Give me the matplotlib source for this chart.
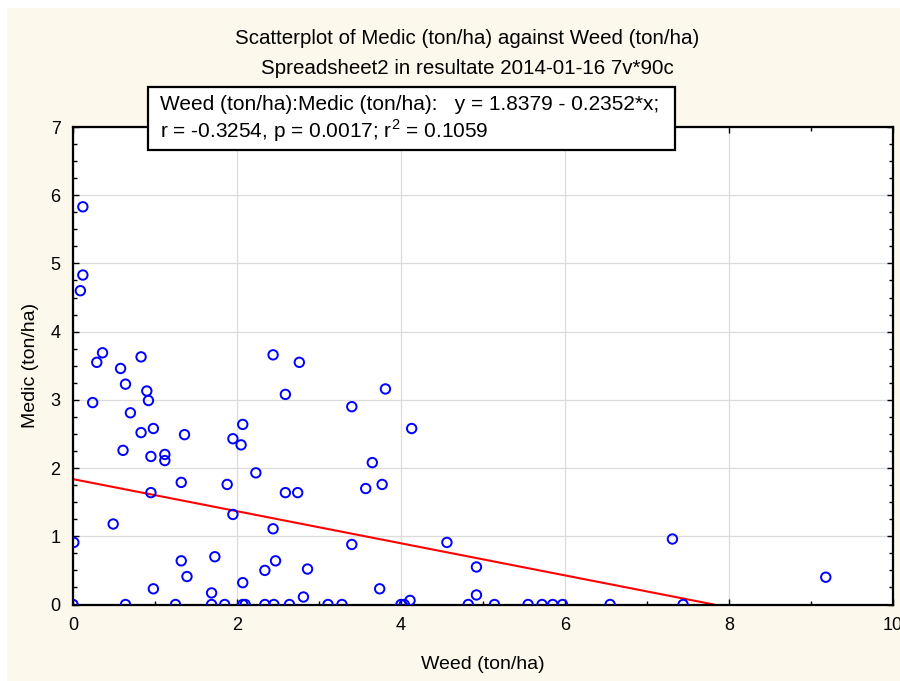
import matplotlib
matplotlib.use('Agg')
import matplotlib.pyplot as plt
from matplotlib.patches import Rectangle
from matplotlib.ticker import MultipleLocator

# Data
weed = [0.12, 0.12, 0.09,
        0.36, 0.29, 0.83, 0.58, 0.64, 0.90, 0.24, 0.92, 0.70, 2.07,
        0.98, 0.83, 1.36, 1.95, 2.05, 0.61, 0.95, 1.12, 1.12, 2.23,
        1.32, 1.88, 0.95, 1.95, 0.49, 0.01, 1.32, 1.73, 1.39, 2.07, 0.98, 1.69,
        0.00, 0.64, 1.25, 1.69, 1.85, 2.07, 2.10,
        2.44, 2.76, 2.59, 3.81, 3.40, 4.13, 3.65,
        2.59, 2.74, 3.57, 3.77, 2.44, 3.40, 4.56, 2.47, 2.34, 2.86, 3.74, 2.81, 4.11,
        2.34, 2.45, 2.64, 3.11, 3.28, 4.00, 4.04,
        4.92, 4.92, 7.31,
        4.82, 5.14, 5.55, 5.72, 5.85, 5.97, 6.55, 7.44,
        9.18]
medic = [5.83, 4.83, 4.60,
         3.69, 3.55, 3.63, 3.46, 3.23, 3.13, 2.96, 2.99, 2.81, 2.64,
         2.58, 2.52, 2.49, 2.43, 2.34, 2.26, 2.17, 2.20, 2.11, 1.93,
         1.79, 1.76, 1.64, 1.32, 1.18, 0.91, 0.64, 0.70, 0.41, 0.32, 0.23, 0.17,
         0.00, 0.00, 0.00, 0.00, 0.00, 0.00, 0.00,
         3.66, 3.55, 3.08, 3.16, 2.90, 2.58, 2.08,
         1.64, 1.64, 1.70, 1.76, 1.11, 0.88, 0.91, 0.64, 0.50, 0.52, 0.23, 0.11, 0.06,
         0.00, 0.00, 0.00, 0.00, 0.00, 0.00, 0.00,
         0.55, 0.14, 0.96,
         0.00, 0.00, 0.00, 0.00, 0.00, 0.00, 0.00, 0.00,
         0.40]

intercept = 1.8379
slope = -0.2352
x_ticks = [0, 2, 4, 6, 8, 10]
y_ticks = [0, 1, 2, 3, 4, 5, 6, 7]

title = 'Scatterplot of Medic (ton/ha) against Weed (ton/ha)'
subtitle = 'Spreadsheet2 in resultate 2014-01-16 7v*90c'
eq_line1 = 'Weed (ton/ha):Medic (ton/ha):   y = 1.8379 - 0.2352*x;'
eq_line2 = 'r = -0.3254, p = 0.0017; r$^2$ = 0.1059'

cream = '#fdf8ec'
plt.rcParams['font.family'] = ['Liberation Sans', 'DejaVu Sans']
plt.rcParams['mathtext.fontset'] = 'custom'
plt.rcParams['mathtext.rm'] = 'Liberation Sans'

fig = plt.figure(figsize=(9, 6.81), dpi=100)
fig.patch.set_facecolor('white')
fig.patches.append(Rectangle((7 / 900, 0), 1, 1 - 8 / 681, transform=fig.transFigure,
                             facecolor=cream, edgecolor='none', zorder=-10))

ax = fig.add_axes([73 / 900, 1 - 604.5 / 681, (893 - 73) / 900, (604.5 - 127) / 681])
ax.set_facecolor('white')

ax.scatter(weed, medic, s=46, facecolors='none', edgecolors='#0000ff',
           linewidths=1.4, zorder=3)

# regression line, stops where it meets the x axis
x_end = -intercept / slope
ax.plot([0, x_end], [intercept, intercept + slope * x_end], color='#ff0000',
        linewidth=1.5, zorder=2)

ax.set_xlim(0, 10)
ax.set_ylim(0, 7)
ax.set_xticks(x_ticks)
ax.set_yticks(y_ticks)
ax.xaxis.set_minor_locator(MultipleLocator(1))
ax.yaxis.set_minor_locator(MultipleLocator(0.25))
ax.grid(True, which='major', color='#dcdcdc', linewidth=0.9)
ax.set_axisbelow(True)
ax.tick_params(which='both', direction='in', top=True, right=True,
               labelsize=13, width=1.0, color='black')
ax.tick_params(which='major', length=4, pad=9)
ax.tick_params(which='minor', length=3)
for sp in ax.spines.values():
    sp.set_linewidth(1.6)
    sp.set_color('black')

ax.set_xlabel('Weed (ton/ha)', fontsize=14, labelpad=16)
ax.set_ylabel('Medic (ton/ha)', fontsize=14, labelpad=8)

fig.text(467 / 900, 1 - 38 / 681, title, ha='center', va='center', fontsize=14.8)
fig.text(467 / 900, 1 - 68 / 681, subtitle, ha='center', va='center', fontsize=14.8)

fig.patches.append(Rectangle((148 / 900, 1 - 150 / 681), (675 - 148) / 900, 63 / 681,
                             transform=fig.transFigure, facecolor='white',
                             edgecolor='black', linewidth=1.6, zorder=5))
fig.text(160 / 900, 1 - 104 / 681, eq_line1, ha='left', va='center', fontsize=15, zorder=6)
fig.text(160 / 900, 1 - 131 / 681, eq_line2, ha='left', va='center', fontsize=15, zorder=6)

fig.savefig('out.png', dpi=100, facecolor=fig.get_facecolor())
